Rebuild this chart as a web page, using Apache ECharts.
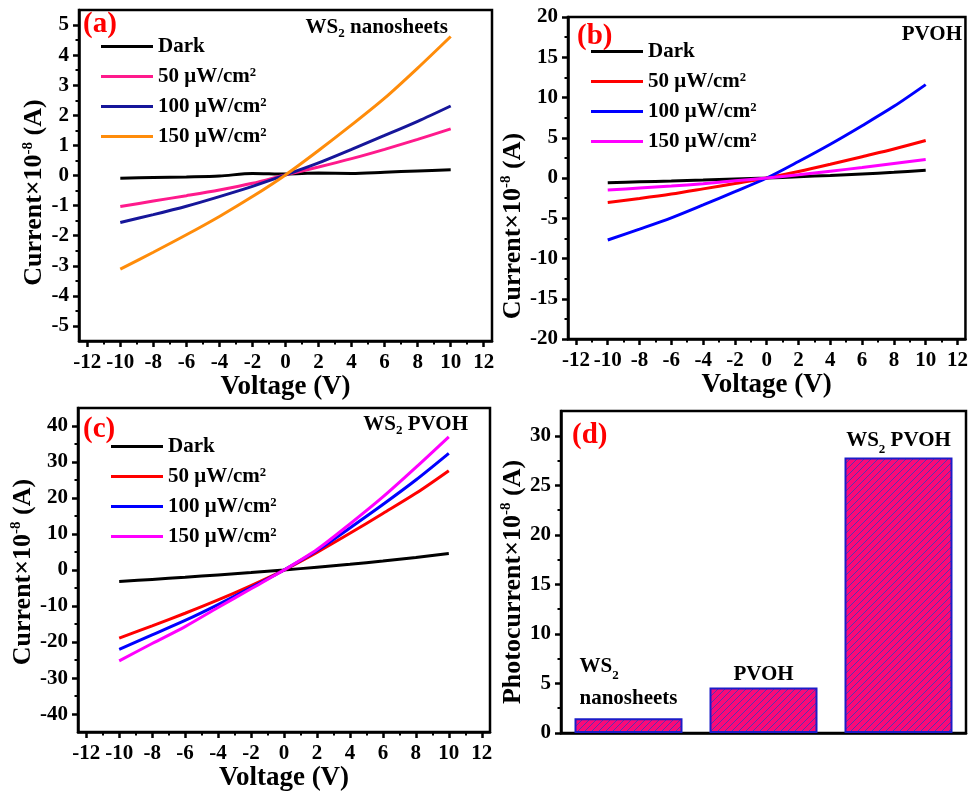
<!DOCTYPE html>
<html><head><meta charset="utf-8">
<script src="https://cdn.jsdelivr.net/npm/echarts@6/dist/echarts.min.js"></script>
<style>html,body{margin:0;padding:0;background:#fff}#c{width:971px;height:793px}</style>
</head><body><div id="c"></div>
<script>
// ---------- data ----------
const voltage = [-10, -8, -6, -4, -2, 0, 2, 4, 6, 8, 10];
const seriesNames = ['Dark', '50 μW/cm²', '100 μW/cm²', '150 μW/cm²'];

// (a) WS2 nanosheets
const aDark = [-0.09, -0.07, -0.05, -0.02, 0.07, 0.05, 0.08, 0.07, 0.11, 0.15, 0.19];
const a50   = [-1.03, -0.85, -0.67, -0.48, -0.26, 0.02, 0.28, 0.56, 0.87, 1.20, 1.55];
const a100  = [-1.56, -1.30, -1.02, -0.70, -0.36, 0.02, 0.42, 0.87, 1.33, 1.80, 2.31];
const a150  = [-3.11, -2.55, -1.97, -1.36, -0.70, 0.02, 0.83, 1.68, 2.57, 3.57, 4.62];

// (b) PVOH
const bDark = [-0.60, -0.48, -0.37, -0.25, -0.12, 0, 0.15, 0.32, 0.50, 0.70, 0.95];
const b50   = [-3.05, -2.55, -2.00, -1.35, -0.68, 0, 0.80, 1.70, 2.65, 3.60, 4.65];
const b100  = [-7.70, -6.35, -4.95, -3.35, -1.70, 0, 2.05, 4.20, 6.50, 8.90, 11.6];
const b150  = [-1.50, -1.25, -1.00, -0.70, -0.35, 0, 0.40, 0.85, 1.30, 1.80, 2.30];

// (c) WS2 PVOH
const cDark = [-3.2, -2.6, -2.0, -1.35, -0.7, 0, 0.8, 1.6, 2.5, 3.5, 4.6];
const c50   = [-18.9, -15.5, -12.0, -8.3, -4.3, 0, 4.9, 10.2, 15.7, 21.3, 27.6];
const c100  = [-22.0, -18.0, -14.0, -9.6, -4.9, 0, 5.4, 11.7, 18.2, 25.0, 32.4];
const c150  = [-25.2, -20.4, -15.7, -10.4, -5.2, 0, 5.7, 12.8, 20.3, 28.5, 37.0];

// (d) photocurrent
const barCategories = ['WS₂ nanosheets', 'PVOH', 'WS₂ PVOH'];
const photocurrent = [1.5, 4.6, 27.8];

// tick labels
const xMajorTicks = [-12, -10, -8, -6, -4, -2, 0, 2, 4, 6, 8, 10, 12];
const xMinorTicks = [-11, -9, -7, -5, -3, -1, 1, 3, 5, 7, 9, 11];
const aYMajor = [-5, -4, -3, -2, -1, 0, 1, 2, 3, 4, 5];
const aYMinor = [-4.5, -3.5, -2.5, -1.5, -0.5, 0.5, 1.5, 2.5, 3.5, 4.5];
const bYMajor = [-20, -15, -10, -5, 0, 5, 10, 15, 20];
const bYMinor = [-17.5, -12.5, -7.5, -2.5, 2.5, 7.5, 12.5, 17.5];
const cYMajor = [-40, -30, -20, -10, 0, 10, 20, 30, 40];
const cYMinor = [-35, -25, -15, -5, 5, 15, 25, 35];
const dYMajor = [0, 5, 10, 15, 20, 25, 30];
const dYMinor = [2.5, 7.5, 12.5, 17.5, 22.5, 27.5];

// ---------- styles ----------
const FONT = '"Liberation Serif", "Times New Roman", serif';
const colorsA = ['#000000', '#ff1a8c', '#16169a', '#ff8c0a'];
const colorsBC = ['#000000', '#ff0000', '#0000ff', '#ff00ff'];

const nameRich = {
  n: {fontFamily: FONT, fontWeight: 'bold', fontSize: 26, lineHeight: 28, color: '#000'},
  sup: {fontFamily: FONT, fontWeight: 'bold', fontSize: 15, lineHeight: 15, padding: [0, 0, 12, 0], verticalAlign: 'top', color: '#000'}
};
const textRich = {
  n: {fontFamily: FONT, fontWeight: 'bold', fontSize: 21, lineHeight: 24, color: '#000'},
  s: {fontFamily: FONT, fontWeight: 'bold', fontSize: 13, lineHeight: 13, padding: [10, 0, 0, 0], verticalAlign: 'bottom', color: '#000'}
};
const barRich = {
  n: {fontFamily: FONT, fontWeight: 'bold', fontSize: 21, lineHeight: 32, align: 'left', color: '#000'},
  s: {fontFamily: FONT, fontWeight: 'bold', fontSize: 13, lineHeight: 13, padding: [14, 0, 0, 0], verticalAlign: 'bottom', align: 'left', color: '#000'}
};

function labelStyle(extra) {
  return Object.assign({show: true, color: '#000', fontFamily: FONT, fontWeight: 'bold', fontSize: 21,
    formatter: v => String(v)}, extra || {});
}
function xMain(grid, ticks, nameGap) {
  return {type: 'value', gridIndex: grid, min: -12.5, max: 12.5, position: 'bottom',
    axisLine: {show: true, onZero: false, lineStyle: {color: '#000', width: 2.5}},
    axisTick: {show: true, inside: false, length: 6, customValues: ticks, lineStyle: {color: '#000', width: 2.5}},
    axisLabel: labelStyle({margin: 11, customValues: ticks}),
    splitLine: {show: false},
    name: 'Voltage (V)', nameLocation: 'middle', nameGap: nameGap,
    nameTextStyle: {fontFamily: FONT, fontWeight: 'bold', fontSize: 27, color: '#000'}};
}
function xMinor(grid, ticks) {
  return {type: 'value', gridIndex: grid, min: -12.5, max: 12.5, position: 'bottom',
    axisLine: {show: false, onZero: false},
    axisTick: {show: true, inside: false, length: 3.5, customValues: ticks, lineStyle: {color: '#000', width: 2}},
    axisLabel: {show: false}, splitLine: {show: false}};
}
function yMain(grid, min, max, ticks, name, nameGap, shiftDown) {
  return {type: 'value', gridIndex: grid, min: min, max: max, position: 'left',
    axisLine: {show: true, onZero: false, lineStyle: {color: '#000', width: 2.5}},
    axisTick: {show: true, inside: false, length: 6, customValues: ticks, lineStyle: {color: '#000', width: 2.5}},
    axisLabel: labelStyle({margin: 10, customValues: ticks}),
    splitLine: {show: false},
    name: name, nameLocation: 'middle', nameGap: nameGap, nameRotate: 90,
    nameTextStyle: {rich: nameRich, padding: [0, shiftDown * 2, 0, 0]}};
}
function yMinor(grid, min, max, ticks) {
  return {type: 'value', gridIndex: grid, min: min, max: max, position: 'left',
    axisLine: {show: false, onZero: false},
    axisTick: {show: true, inside: false, length: 3.5, customValues: ticks, lineStyle: {color: '#000', width: 2}},
    axisLabel: {show: false}, splitLine: {show: false}};
}
function lineSeries(name, xi, yi, arr, color) {
  return {type: 'line', name: name, xAxisIndex: xi, yAxisIndex: yi, smooth: 0.3,
    symbol: 'none', lineStyle: {color: color, width: 3}, itemStyle: {color: color},
    data: voltage.map((v, i) => [v, arr[i]])};
}
function legend(left, top, colors) {
  return {orient: 'vertical', left: left, top: top, padding: 0, itemGap: 9,
    itemWidth: 52, itemHeight: 3, icon: 'rect',
    textStyle: {fontFamily: FONT, fontWeight: 'bold', fontSize: 21, lineHeight: 21, color: '#000'},
    data: seriesNames.map((n, i) => ({name: n, itemStyle: {color: colors[i]}}))};
}
function hatch() {
  const c = document.createElement('canvas');
  c.width = 7; c.height = 7;
  const g = c.getContext('2d');
  g.fillStyle = '#fa0a78'; g.fillRect(0, 0, 7, 7);
  g.strokeStyle = '#4638b4'; g.lineWidth = 0.9;
  g.beginPath();
  g.moveTo(-1, 8); g.lineTo(8, -1);
  g.moveTo(-1, 1); g.lineTo(1, -1);
  g.moveTo(6, 8); g.lineTo(8, 6);
  g.stroke();
  return c;
}
const gridBase = {show: true, borderColor: '#000', borderWidth: 2.5, backgroundColor: 'transparent'};
const yName = '{n|Current×10}{sup|-8}{n| (A)}';
const yNameD = '{n|Photocurrent×10}{sup|-8}{n| (A)}';
const barLabelRich = ['{n|WS}{s|2}\n{n|nanosheets}', '{n|PVOH}', '{n|WS}{s|2}{n| PVOH}'];
const barLabelDist = [4, -3, 1];

function gtext(x, y, text, align, opts) {
  return {type: 'text', x: x, y: y, z: 100,
    style: Object.assign({text: text, align: align, verticalAlign: 'middle', rich: textRich,
      fontFamily: FONT, fontWeight: 'bold', fontSize: 21, fill: '#000'}, opts || {})};
}
function letter(x, y, t) {
  return {type: 'text', x: x, y: y, z: 100,
    style: {text: t, align: 'left', verticalAlign: 'middle', fill: '#ff0000',
      fontFamily: FONT, fontWeight: 'bold', fontSize: 29}};
}

const option = {
  backgroundColor: '#fff',
  animation: false,
  grid: [
    Object.assign({left: 79, top: 10, width: 413, height: 331}, gridBase),
    Object.assign({left: 568, top: 17, width: 399, height: 322}, gridBase),
    Object.assign({left: 78, top: 408, width: 412, height: 330}, gridBase),
    Object.assign({left: 561, top: 411, width: 405, height: 322}, gridBase)
  ],
  xAxis: [
    xMain(0, xMajorTicks, 31), xMinor(0, xMinorTicks),
    xMain(1, xMajorTicks, 29), xMinor(1, xMinorTicks),
    xMain(2, xMajorTicks, 27), xMinor(2, xMinorTicks),
    {type: 'category', gridIndex: 3, data: barCategories, position: 'bottom',
      axisLine: {show: true, onZero: false, lineStyle: {color: '#000', width: 2.5}},
      axisTick: {show: false}, axisLabel: {show: false}, splitLine: {show: false}}
  ],
  yAxis: [
    yMain(0, -5.5, 5.5, aYMajor, yName, 30, 17), yMinor(0, -5.5, 5.5, aYMinor),
    yMain(1, -20, 20, bYMajor, yName, 35, 48), yMinor(1, -20, 20, bYMinor),
    yMain(2, -45, 45, cYMajor, yName, 38, 2), yMinor(2, -45, 45, cYMinor),
    yMain(3, 0, 32.5, dYMajor, yNameD, 29, 10), yMinor(3, 0, 32.5, dYMinor)
  ],
  legend: [
    legend(101, 36, colorsA),
    legend(591, 41, colorsBC),
    legend(111, 436, colorsBC)
  ],
  series: [
    lineSeries(seriesNames[0], 0, 0, aDark, colorsA[0]),
    lineSeries(seriesNames[1], 0, 0, a50, colorsA[1]),
    lineSeries(seriesNames[2], 0, 0, a100, colorsA[2]),
    lineSeries(seriesNames[3], 0, 0, a150, colorsA[3]),
    lineSeries(seriesNames[0], 2, 2, bDark, colorsBC[0]),
    lineSeries(seriesNames[1], 2, 2, b50, colorsBC[1]),
    lineSeries(seriesNames[2], 2, 2, b100, colorsBC[2]),
    lineSeries(seriesNames[3], 2, 2, b150, colorsBC[3]),
    lineSeries(seriesNames[0], 4, 4, cDark, colorsBC[0]),
    lineSeries(seriesNames[1], 4, 4, c50, colorsBC[1]),
    lineSeries(seriesNames[2], 4, 4, c100, colorsBC[2]),
    lineSeries(seriesNames[3], 4, 4, c150, colorsBC[3]),
    {type: 'bar', name: 'Photocurrent', xAxisIndex: 6, yAxisIndex: 6, barWidth: '80%',
      itemStyle: {color: {image: hatch(), repeat: 'repeat'}, borderColor: '#1c1cc8', borderWidth: 2},
      data: photocurrent.map((v, i) => ({value: v,
        label: {show: true, position: 'top', distance: barLabelDist[i], rich: barRich,
          formatter: () => barLabelRich[i]}}))}
  ],
  graphic: [
    letter(83, 25, '(a)'), letter(577, 37, '(b)'), letter(83, 430, '(c)'), letter(572, 436, '(d)'),
    gtext(448, 28, '{n|WS}{s|2}{n| nanosheets}', 'right'),
    gtext(962, 35, '{n|PVOH}', 'right'),
    gtext(468, 425, '{n|WS}{s|2}{n| PVOH}', 'right')
  ]
};
const chart = echarts.init(document.getElementById('c'), null, {renderer: 'canvas'});
chart.setOption(option);
</script>
</body></html>
